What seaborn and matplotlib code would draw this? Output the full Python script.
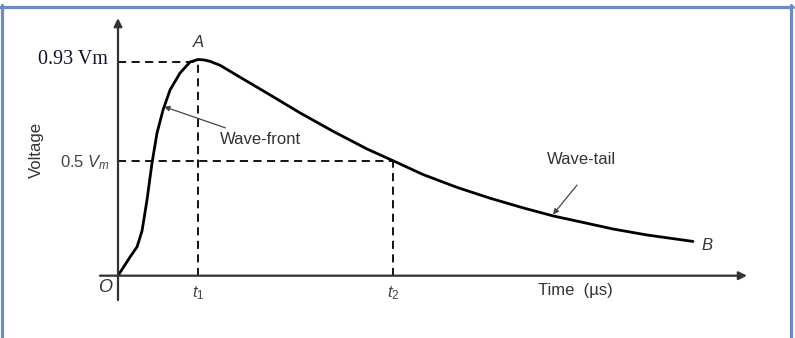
import matplotlib
matplotlib.use("Agg")
import matplotlib.pyplot as plt
import seaborn as sns
import pandas as pd
from matplotlib.lines import Line2D

# ---- data (time in arbitrary µs units, voltage in Vm) ----
time_us = [0.0, 0.30, 0.475, 0.60, 0.725, 0.85, 0.975, 1.125, 1.30, 1.55, 1.80, 2.0,
           2.15, 2.30, 2.55, 3.10, 3.725, 4.55, 5.375, 6.225, 6.875, 7.625, 8.475,
           9.30, 10.125, 10.875, 11.80, 12.375, 13.225, 14.375]
voltage = [0.0, 0.081, 0.125, 0.194, 0.329, 0.49, 0.62, 0.72, 0.807, 0.881, 0.929, 0.94,
           0.938, 0.932, 0.915, 0.858, 0.794, 0.708, 0.628, 0.551, 0.50, 0.440, 0.384,
           0.337, 0.295, 0.260, 0.225, 0.203, 0.177, 0.149]

t1 = 2.0
t2 = 6.875
peak_level = 0.93
half_level = 0.5
peak_label = "0.93 Vm"
half_label = r"0.5 $V_m$"
x_tick_labels = [r"$t_1$", r"$t_2$"]
x_label = "Time  (µs)"
y_label = "Voltage"
front_label = "Wave-front"
tail_label = "Wave-tail"

df = pd.DataFrame({"t": time_us, "v": voltage})

sns.set_style("white")
plt.rcParams["font.family"] = ["Liberation Sans", "DejaVu Sans"]
plt.rcParams["mathtext.fontset"] = "custom"
plt.rcParams["mathtext.rm"] = "Liberation Sans"
plt.rcParams["mathtext.it"] = "Liberation Sans:italic"

fig = plt.figure(figsize=(7.95, 3.38), dpi=100)
ax = fig.add_axes([0, 0, 1, 1])
ax.set_xlim(-2.95, 16.925)
ax.set_ylim(-0.2709, 1.1987)
ax.axis("off")

# axes with arrows
ax.annotate("", xy=(15.725, 0), xytext=(-0.45, 0),
            arrowprops=dict(arrowstyle="-|>", color="#333333", lw=1.6,
                            mutation_scale=12, shrinkA=0, shrinkB=0))
ax.annotate("", xy=(0, 1.12), xytext=(0, -0.106),
            arrowprops=dict(arrowstyle="-|>", color="#333333", lw=1.6,
                            mutation_scale=12, shrinkA=0, shrinkB=0))

# dashed guide lines
dash = dict(color="black", lw=1.3, ls=(0, (4.5, 3)))
ax.plot([0, t1], [peak_level, peak_level], **dash)
ax.plot([t1, t1], [0, peak_level], **dash)
ax.plot([0, t2], [half_level, half_level], **dash)
ax.plot([t2, t2], [0, half_level], **dash)

# the impulse wave
sns.lineplot(data=df, x="t", y="v", ax=ax, color="black", lw=2.0, legend=False)

# labels
ax.text(-0.25, peak_level + 0.01, peak_label, ha="right", va="center",
        fontsize=14.5, family=["Liberation Serif", "DejaVu Serif"], color="#111133")
ax.text(-0.2, half_level - 0.01, half_label, ha="right", va="center",
        fontsize=12, color="#444444")
ax.text(-2.05, 0.547, y_label, rotation=90, ha="center", va="center",
        fontsize=12, color="#333333")
ax.text(-0.325, -0.053, "O", ha="center", va="center", fontsize=13,
        style="italic", color="#333333")
for xt, lab in zip([t1, t2], x_tick_labels):
    ax.text(xt, -0.078, lab, ha="center", va="center", fontsize=12, color="#444444")
ax.text(11.425, -0.063, x_label, ha="center", va="center", fontsize=12,
        color="#333333")
ax.text(t1, 1.012, "A", ha="center", va="center", fontsize=12,
        style="italic", color="#333333")
ax.text(14.725, 0.133, "B", ha="center", va="center", fontsize=12,
        style="italic", color="#333333")

ax.annotate(front_label, xy=(1.15, 0.735), xytext=(2.55, 0.59),
            ha="left", va="center", fontsize=12, color="#333333",
            arrowprops=dict(arrowstyle="-|>", color="#444444", lw=0.9,
                            mutation_scale=8, shrinkA=3, shrinkB=0))
ax.text(11.575, 0.507, tail_label, ha="center", va="center", fontsize=12,
        color="#333333")
ax.annotate("", xy=(10.875, 0.266), xytext=(11.475, 0.394),
            arrowprops=dict(arrowstyle="-|>", color="#444444", lw=0.9,
                            mutation_scale=8, shrinkA=0, shrinkB=0))

# blue frame
W, H = 795.0, 338.0
frame_col = "#6a8cc0"
fig.add_artist(Line2D([0, 793 / W], [1 - 6.5 / H, 1 - 6.5 / H], color=frame_col,
                      lw=2.3, transform=fig.transFigure))
fig.add_artist(Line2D([1.5 / W, 1.5 / W], [0, 1 - 5 / H], color=frame_col,
                      lw=2.3, transform=fig.transFigure))
fig.add_artist(Line2D([791 / W, 791 / W], [0, 1 - 5 / H], color=frame_col,
                      lw=2.3, transform=fig.transFigure))

fig.savefig("out.png", dpi=100)
